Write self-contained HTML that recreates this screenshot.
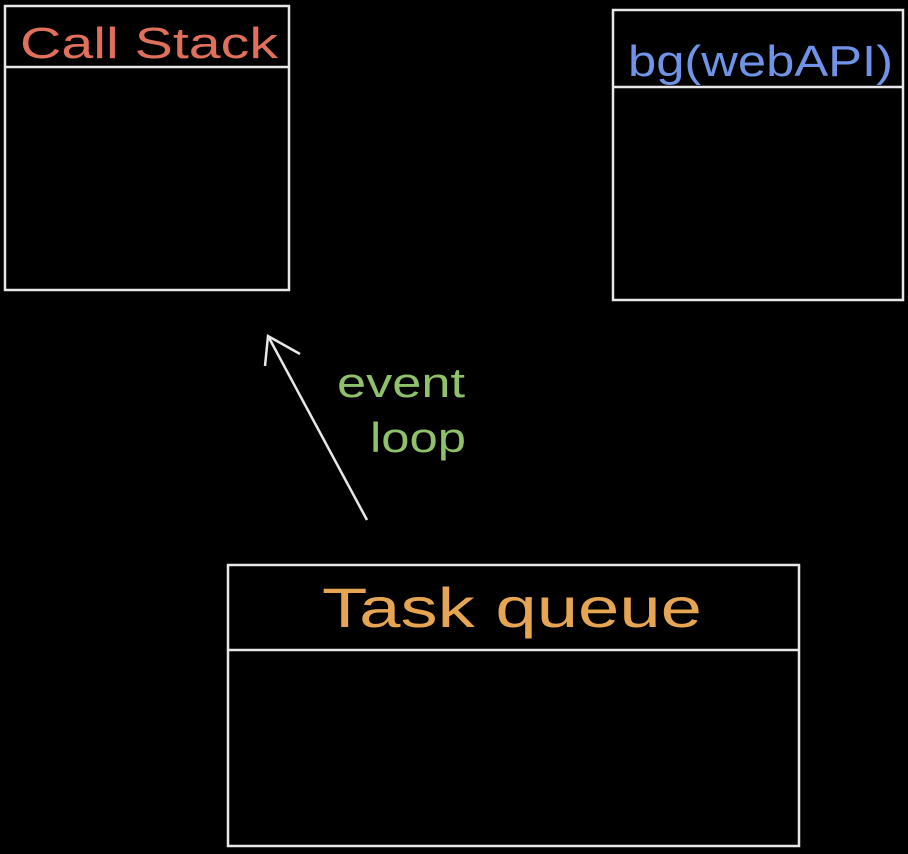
<!DOCTYPE html>
<html><head><meta charset="utf-8"><style>
html,body{margin:0;padding:0;background:#000;width:908px;height:854px;overflow:hidden}
svg{display:block}
text{font-family:"Liberation Sans",sans-serif}
</style></head><body>
<svg width="908" height="854" viewBox="0 0 908 854" xmlns="http://www.w3.org/2000/svg">
<g fill="none" stroke="#e8e8e8" stroke-width="2.5">
<rect x="5" y="6" width="284" height="284"/>
<line x1="5" y1="67" x2="289" y2="67"/>
<rect x="613" y="10" width="290" height="290"/>
<line x1="613" y1="87" x2="903" y2="87"/>
<rect x="228" y="565" width="571" height="281"/>
<line x1="228" y1="650" x2="799" y2="650"/>
<line x1="367" y1="520" x2="268" y2="336"/>
<polyline points="265,366 268,336 300,354"/>
</g>
<text x="20" y="58" font-size="44" fill="#e0705c" textLength="258" lengthAdjust="spacingAndGlyphs">Call Stack</text>
<text x="628" y="76" font-size="44" fill="#6f93e6" textLength="265" lengthAdjust="spacingAndGlyphs">bg(webAPI)</text>
<text x="322" y="627" font-size="56" fill="#e6a552" textLength="380" lengthAdjust="spacingAndGlyphs">Task queue</text>
<text x="337" y="397" font-size="42" fill="#8fc06a" textLength="128" lengthAdjust="spacingAndGlyphs">event</text>
<text x="370" y="452" font-size="42" fill="#8fc06a" textLength="96" lengthAdjust="spacingAndGlyphs">loop</text>
</svg>
</body></html>
